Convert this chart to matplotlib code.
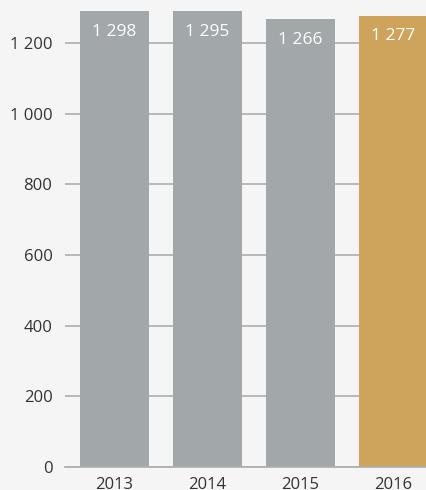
import matplotlib.pyplot as plt

years = ["2013", "2014", "2015", "2016"]
values = [1298, 1295, 1266, 1277]
labels = ["1 298", "1 295", "1 266", "1 277"]
yticks = [0, 200, 400, 600, 800, 1000, 1200]
ytick_labels = ["0", "200", "400", "600", "800", "1 000", "1 200"]

grey = "#a2a7aa"
gold = "#cea35c"
bg = "#f5f5f5"
colors = [grey, grey, grey, gold]

plt.rcParams['font.family'] = ['Open Sans', 'DejaVu Sans']

fig = plt.figure(figsize=(4.27, 4.90), dpi=100, facecolor=bg)
ax = fig.add_axes([65 / 427, 23 / 490, 362 / 427, 456 / 490], facecolor=bg)

x = range(len(years))
ax.bar(x, values, width=0.742, color=colors, zorder=2)

ymax = 1290
ax.set_ylim(0, ymax)
ax.set_xlim(-0.532, 3.36)

for i, (v, lab) in enumerate(zip(values, labels)):
    top = min(v, ymax)
    ax.annotate(lab, (i, top), xytext=(0, -9), textcoords="offset points",
                ha="center", va="top", color="white", fontsize=12.5, zorder=3)

ax.set_yticks(yticks)
ax.set_yticklabels(ytick_labels)
ax.set_xticks(list(x))
ax.set_xticklabels(years)
ax.yaxis.grid(True, color="#a8a8a8", linewidth=1.1, zorder=0)
ax.set_axisbelow(True)
ax.tick_params(axis="both", length=0, labelsize=12, colors="#333333")
ax.tick_params(axis="y", pad=9)
ax.tick_params(axis="x", pad=7)

for side in ["top", "right", "left"]:
    ax.spines[side].set_visible(False)
ax.spines["bottom"].set_color("#b0b0b0")
ax.spines["bottom"].set_linewidth(1.3)

fig.savefig("out.png", dpi=100, facecolor=bg)
